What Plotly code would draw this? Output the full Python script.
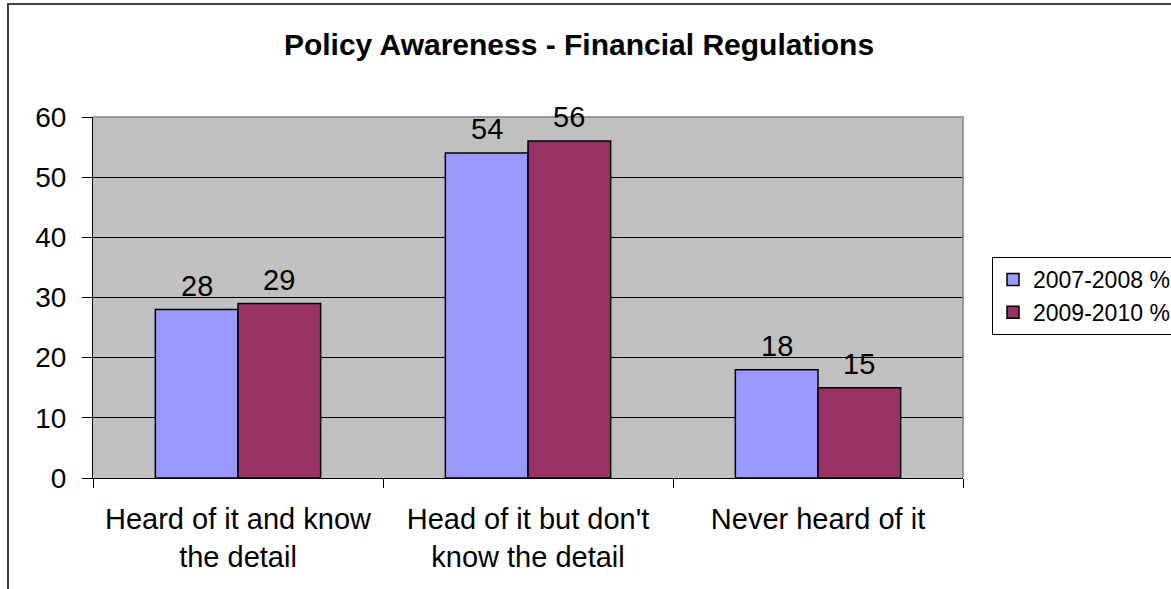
import plotly.graph_objects as go

# Survey categories and responses (percent)
categories = [
    "Heard of it and know<br>the detail",
    "Head of it but don't<br>know the detail",
    "Never heard of it",
]
series_names = ["2007-2008 %", "2009-2010 %"]
values_2007_2008 = [28, 54, 18]
values_2009_2010 = [29, 56, 15]
series_colors = ["#9999FF", "#993366"]

W, H = 1171, 589
# plot area in pixels
L, R, T, B = 93, 963, 117, 478
BARGAP = 0.43

font_family = "Liberation Sans, Arial, sans-serif"

fig = go.Figure()
for name, vals, col in zip(series_names, [values_2007_2008, values_2009_2010], series_colors):
    fig.add_trace(go.Bar(
        name=name,
        x=categories,
        y=vals,
        marker=dict(color=col, line=dict(color="black", width=1.5)),
    ))

# value labels above each bar
half = (1 - BARGAP) / 4
annotations = []
for k, vals in enumerate([values_2007_2008, values_2009_2010]):
    off = -half if k == 0 else half
    for i, v in enumerate(vals):
        annotations.append(dict(
            x=i + off, y=v, xref="x", yref="y",
            text=str(v), showarrow=False,
            yanchor="bottom", yshift=6,
            font=dict(family=font_family, size=29, color="black"),
        ))

def px_x(p):
    return (p - L) / (R - L)

def px_y(p):
    return (B - p) / (B - T)

shapes = [
    # outer chart frame
    dict(type="rect", xref="paper", yref="paper",
         x0=px_x(8), x1=px_x(1190), y0=px_y(610), y1=px_y(4),
         line=dict(color="#404040", width=2), fillcolor="rgba(0,0,0,0)", layer="above"),
    # grey top and right edges of the plot area
    dict(type="path", xref="paper", yref="paper",
         path="M 0,1 L 1,1 L 1,0", line=dict(color="#808080", width=1.5), layer="above"),
]

fig.update_layout(
    width=W, height=H,
    margin=dict(l=L, r=W - R, t=T, b=H - B, autoexpand=False),
    paper_bgcolor="white",
    plot_bgcolor="#C0C0C0",
    barmode="group",
    bargap=BARGAP,
    bargroupgap=0,
    font=dict(family=font_family, color="black"),
    title=dict(
        text="<b>Policy Awareness - Financial Regulations</b>",
        x=579 / W, xref="container", xanchor="center",
        y=1 - 44 / H, yref="container", yanchor="middle",
        font=dict(family=font_family, size=30, color="black"),
    ),
    xaxis=dict(
        type="category",
        range=[-0.5, len(categories) - 0.5],
        tickson="boundaries",
        ticks="outside", ticklen=9, tickcolor="black", tickwidth=1,
        showline=True, linecolor="black", linewidth=1,
        showgrid=False, zeroline=False,
        tickfont=dict(family=font_family, size=29, color="black"),
        ticklabelstandoff=15,
    ),
    yaxis=dict(
        range=[0, 60], dtick=10, tick0=0,
        ticks="outside", ticklen=10, tickcolor="black", tickwidth=1,
        showline=True, linecolor="black", linewidth=1,
        showgrid=True, gridcolor="black", gridwidth=1,
        zeroline=False,
        tickfont=dict(family=font_family, size=28, color="black"),
        ticklabelstandoff=10,
    ),
    legend=dict(
        x=px_x(992), y=px_y(257), xanchor="left", yanchor="top",
        bordercolor="black", borderwidth=1, bgcolor="white",
        font=dict(family=font_family, size=23, color="black"),
        itemclick=False,
    ),
    annotations=annotations,
    shapes=shapes,
)

fig.write_html("out.html")
